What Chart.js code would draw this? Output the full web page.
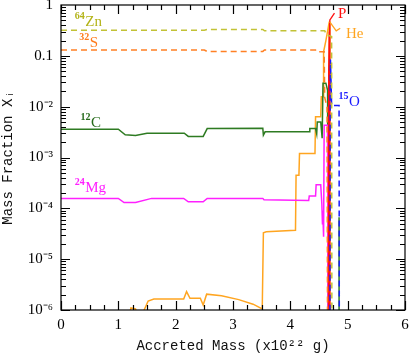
<!DOCTYPE html>
<html>
<head>
<meta charset="utf-8">
<script src="https://cdn.jsdelivr.net/npm/chart.js@4"></script>
<style>
  html, body { margin: 0; padding: 0; background: #fff; }
</style>
</head>
<body>
<canvas id="massChart" width="409" height="355"></canvas>
<script>
// tick labels
const xTickValues = [0, 1, 2, 3, 4, 5, 6];
const xTickLabels = ['0', '1', '2', '3', '4', '5', '6'];
const yTickValues = [1e-6, 1e-5, 1e-4, 1e-3, 1e-2, 0.1, 1];
const yTickLabels = ['10⁻⁶', '10⁻⁵', '10⁻⁴', '10⁻³', '10⁻²', '0.1', '1'];

// mass fractions vs accreted mass (x10^22 g)
const znMass = [0, 2.5, 2.55, 3.52, 3.55, 4.6, 4.63, 4.72, 4.725];
const znFrac = [0.32, 0.32, 0.33, 0.33, 0.31, 0.31, 0.26, 0.24, 1e-7];

const sMass = [0, 2.5, 2.55, 3.52, 3.55, 4.44, 4.46, 4.59, 4.6, 4.64, 4.65];
const sFrac = [0.13, 0.13, 0.122, 0.122, 0.13, 0.13, 0.12, 0.12, 0.015, 0.01, 1e-7];

const cMass = [0, 1.0, 1.12, 1.3, 1.5, 2.15, 2.22, 2.48, 2.55, 3.52, 3.53, 3.56, 4.33, 4.34, 4.44, 4.46, 4.47, 4.53, 4.555, 4.57, 4.62, 4.65, 4.66, 4.75, 4.85, 4.85];
const cFrac = [3.6e-3, 3.6e-3, 2.8e-3, 2.7e-3, 3.0e-3, 3.0e-3, 2.6e-3, 2.6e-3, 3.7e-3, 3.75e-3, 2.75e-3, 3.2e-3, 3.2e-3, 3.7e-3, 3.7e-3, 2.9e-3, 5e-3, 5e-3, 2.4e-3, 0.029, 0.029, 0.021, 1e-7, null, 6.7e-5, 1e-7];

const mgMass = [0, 1.0, 1.1, 1.3, 1.58, 2.14, 2.22, 2.48, 2.55, 3.52, 3.54, 4.32, 4.33, 4.44, 4.45, 4.53, 4.55, 4.56, 4.565, 4.58, 4.59, 4.65, 4.66];
const mgFrac = [1.57e-4, 1.57e-4, 1.3e-4, 1.3e-4, 1.57e-4, 1.57e-4, 1.34e-4, 1.34e-4, 1.57e-4, 1.57e-4, 1.48e-4, 1.42e-4, 1.74e-4, 1.74e-4, 2.9e-4, 2.9e-4, 1.2e-4, 5e-5, 9e-5, 2.75e-5, 4.3e-3, 4.3e-3, 1e-7];

const heMass = [1.15, 1.22, 1.3, 1.38, 1.45, 1.52, 1.62, 2.14, 2.19, 2.25, 2.43, 2.48, 2.54, 2.8, 3.1, 3.35, 3.51, 3.53, 3.58, 4.09, 4.1, 4.15, 4.16, 4.43, 4.44, 4.53, 4.54, 4.57, 4.58, 4.62, 4.68, 4.69];
const heFrac = [5e-7, 1.1e-6, 1.05e-6, 5e-7, 1.0e-6, 1.5e-6, 1.65e-6, 1.65e-6, 2.3e-6, 1.7e-6, 1.7e-6, 1.25e-6, 2.05e-6, 1.9e-6, 1.6e-6, 1.3e-6, 1.05e-6, 3.3e-5, 3.45e-5, 3.7e-5, 4.5e-4, 4.5e-4, 1.2e-3, 1.2e-3, 6.3e-3, 6.3e-3, 0.0157, 0.0157, 0.12, 0.2, 0.47, 1e-7];

const pMass = [4.66, 4.67, 4.68, 4.685, 4.69];
const pFrac = [1e-7, 0.05, 0.3, 0.5, 1e-7];

const oMass = [4.69, 4.695, 4.7, 4.72, 4.85, 4.855];
const oFrac = [1e-7, 0.03, 0.085, 0.0105, 0.0105, 1e-7];

const pairs = (xs, ys) => xs.map((m, i) => ({ x: m, y: ys[i] }));

function series(label, xs, ys, color, dashed) {
    return {
        label: label,
        data: pairs(xs, ys),
        borderColor: color,
        borderWidth: 1.5,
        borderDash: dashed ? [6, 4] : [],
        pointRadius: 0,
        tension: 0,
        fill: false,
        spanGaps: false
    };
}

// species name labels, placed in data coordinates
const notes = [
    { sup: '64', main: 'Zn', x: 0.24, y: 0.39, color: '#b3b318' },
    { sup: '32', main: 'S', x: 0.32, y: 0.15, color: '#ff7a1a' },
    { sup: '12', main: 'C', x: 0.34, y: 4.0e-3, color: '#256a1a' },
    { sup: '24', main: 'Mg', x: 0.24, y: 2.1e-4, color: '#ff20ff' },
    { sup: '', main: 'P', x: 4.83, y: 0.56, color: '#ff1010' },
    { sup: '', main: 'He', x: 4.97, y: 0.225, color: '#ffa520' },
    { sup: '15', main: 'O', x: 4.84, y: 0.0105, color: '#1a1aff' }
];
const leaders = [
    { color: '#ff1010', pts: [[4.685, 0.5], [4.77, 0.69]] },
    { color: '#ffa520', pts: [[4.685, 0.47], [4.8, 0.31], [4.87, 0.35]] }
];

const decorations = {
    id: 'decorations',
    afterDraw(chart) {
        const ctx = chart.ctx, a = chart.chartArea;
        const x = chart.scales.x, y = chart.scales.y;
        ctx.save();
        ctx.strokeStyle = '#000';
        ctx.lineWidth = 1.2;
        ctx.strokeRect(a.left, a.top, a.right - a.left, a.bottom - a.top);
        ctx.beginPath();
        // x ticks, inward on bottom and top
        for (let i = 0; i <= 24; i++) {
            const v = i * 0.25;
            const px = Math.round(x.getPixelForValue(v)) + 0.5;
            const len = i % 4 === 0 ? 9 : 5;
            ctx.moveTo(px, a.bottom); ctx.lineTo(px, a.bottom - len);
            ctx.moveTo(px, a.top); ctx.lineTo(px, a.top + len);
        }
        // log y ticks, inward on left and right
        for (let d = -6; d < 0; d++) {
            for (let m = 1; m <= 9; m++) {
                const py = Math.round(y.getPixelForValue(m * Math.pow(10, d))) + 0.5;
                const len = m === 1 ? 9 : 5;
                ctx.moveTo(a.left, py); ctx.lineTo(a.left + len, py);
                ctx.moveTo(a.right, py); ctx.lineTo(a.right - len, py);
            }
        }
        ctx.stroke();

        leaders.forEach(l => {
            ctx.strokeStyle = l.color;
            ctx.lineWidth = 1.3;
            ctx.beginPath();
            l.pts.forEach((p, i) => {
                const px = x.getPixelForValue(p[0]), py = y.getPixelForValue(p[1]);
                if (i === 0) ctx.moveTo(px, py); else ctx.lineTo(px, py);
            });
            ctx.stroke();
        });

        ctx.textBaseline = 'alphabetic';
        notes.forEach(n => {
            let px = x.getPixelForValue(n.x);
            const py = y.getPixelForValue(n.y);
            ctx.fillStyle = n.color;
            if (n.sup) {
                ctx.font = 'bold 10px "Liberation Serif"';
                ctx.fillText(n.sup, px, py - 7);
                px += ctx.measureText(n.sup).width + 0.5;
            }
            ctx.font = '15px "Liberation Serif"';
            ctx.fillText(n.main, px, py);
        });
        ctx.restore();
    }
};

const chartCanvas = document.getElementById('massChart').getContext('2d');
const massChart = new Chart(chartCanvas, {
    type: 'line',
    data: {
        datasets: [
            series('64Zn', znMass, znFrac, '#c2c236', true),
            series('32S', sMass, sFrac, '#ff8024', true),
            series('15O', oMass, oFrac, '#1a1aff', true),
            series('1H', pMass, pFrac, '#ff1010', false),
            series('24Mg', mgMass, mgFrac, '#ff20ff', false),
            series('12C', cMass, cFrac, '#2e7b22', false),
            series('4He', heMass, heFrac, '#ffa520', false)
        ]
    },
    options: {
        responsive: false,
        animation: false,
        devicePixelRatio: 1,
        layout: { autoPadding: false, padding: { top: 5, right: 4, left: 0, bottom: 0 } },
        plugins: { legend: { display: false }, tooltip: { enabled: false } },
        scales: {
            x: {
                type: 'linear',
                min: 0,
                max: 6,
                afterBuildTicks: s => { s.ticks = xTickValues.map(v => ({ value: v })); },
                afterFit: s => { s.height = 45; s.paddingLeft = 0; s.paddingRight = 0; },
                grid: { display: false, drawTicks: false },
                border: { display: false },
                ticks: {
                    callback: (v, i) => xTickLabels[i],
                    font: { family: '"Liberation Serif"', size: 15 },
                    color: '#000',
                    padding: 6,
                    maxRotation: 0
                },
                title: {
                    display: true,
                    text: 'Accreted Mass (x10²² g)',
                    font: { family: '"Liberation Mono"', size: 14 },
                    color: '#111',
                    padding: { top: 0, bottom: 0 }
                }
            },
            y: {
                type: 'logarithmic',
                min: 1e-6,
                max: 1,
                afterBuildTicks: s => { s.ticks = yTickValues.map(v => ({ value: v })); },
                afterFit: s => { s.width = 61; s.paddingTop = 0; s.paddingBottom = 0; },
                grid: { display: false, drawTicks: false },
                border: { display: false },
                ticks: {
                    callback: (v, i) => yTickLabels[i],
                    font: { family: '"Liberation Serif"', size: 15 },
                    color: '#000',
                    padding: 8
                },
                title: {
                    display: true,
                    text: 'Mass Fraction Xᵢ',
                    font: { family: '"Liberation Mono"', size: 14 },
                    color: '#111',
                    padding: { top: 0, bottom: 0 }
                }
            }
        }
    },
    plugins: [decorations]
});
</script>
</body>
</html>
